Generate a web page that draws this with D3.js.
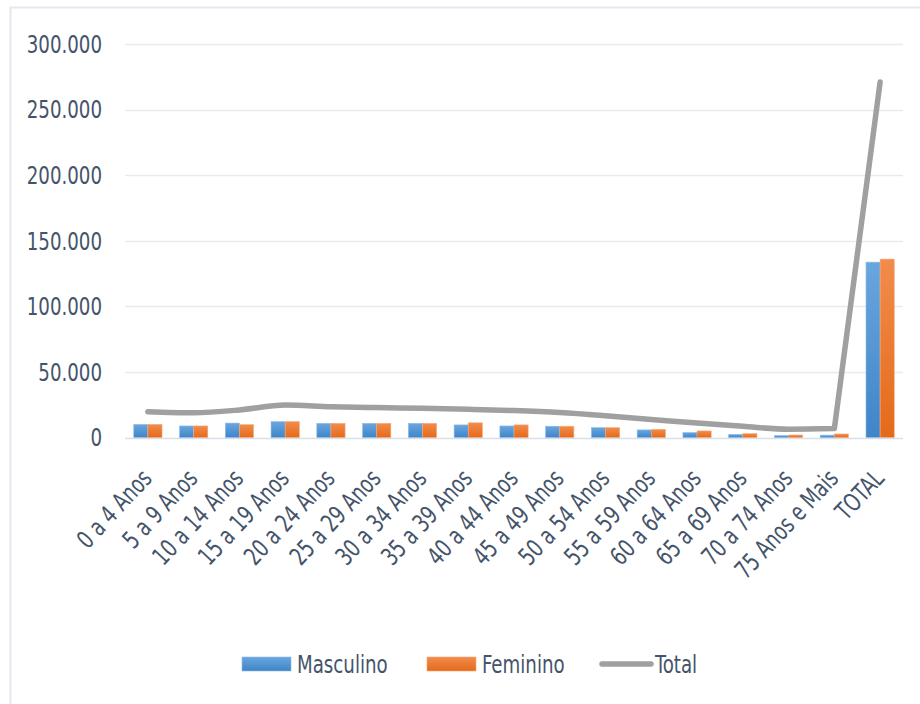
<!DOCTYPE html>
<html>
<head>
<meta charset="utf-8">
<script src="https://cdn.jsdelivr.net/npm/d3@7"></script>
<style>
  body { margin: 0; background: #fff; }
  text { font-family: "Liberation Sans Narrow", "DejaVu Sans Condensed", "Roboto", sans-serif; fill: #44546a; }
</style>
</head>
<body>
<script>
const categories = ['0 a 4 Anos', '5 a 9 Anos', '10 a 14 Anos', '15 a 19 Anos', '20 a 24 Anos',
  '25 a 29 Anos', '30 a 34 Anos', '35 a 39 Anos', '40 a 44 Anos', '45 a 49 Anos', '50 a 54 Anos',
  '55 a 59 Anos', '60 a 64 Anos', '65 a 69 Anos', '70 a 74 Anos', '75 Anos e Mais', 'TOTAL'];
const masculino = [10000, 8800, 11000, 12100, 10800, 10800, 10800, 9600, 8800, 8600, 7500,
  5800, 3800, 2400, 1500, 1800, 133700];
const feminino = [10000, 8800, 9800, 12100, 10800, 10800, 10800, 11200, 9600, 8600, 7500,
  6200, 5000, 2900, 1900, 2700, 136000];
const total = [19700, 18900, 21000, 24800, 23500, 22800, 22300, 21500, 20500, 19000, 16600,
  13800, 11000, 8500, 6300, 6800, 271000];
const yTicks = [0, 50000, 100000, 150000, 200000, 250000, 300000];

const width = 920;
const height = 704;
const margin = { top: 44, right: 17, bottom: 266.5, left: 125 };
const squeeze = 0.81; // narrow the fallback font toward the original's width

const svg = d3.select('body').append('svg')
  .attr('width', width)
  .attr('height', height);

const defs = svg.append('defs');
const grad = (id, top, bottom) => {
  const g = defs.append('linearGradient').attr('id', id)
    .attr('x1', 0).attr('y1', 0).attr('x2', 0).attr('y2', 1);
  g.append('stop').attr('offset', '0%').attr('stop-color', top);
  g.append('stop').attr('offset', '100%').attr('stop-color', bottom);
};
grad('gM', '#6aa6de', '#3f85c8');
grad('gF', '#f28c4c', '#e46a1a');

// chart frame (only left and top edge are visible)
svg.append('path')
  .attr('d', 'M10.5,704 L10.5,7.5 L920,7.5')
  .attr('fill', 'none')
  .attr('stroke', '#e3e7ef')
  .attr('stroke-width', 2);

const x = d3.scaleBand()
  .domain(categories)
  .range([margin.left, width - margin.right]);

const y = d3.scaleLinear()
  .domain([0, 300000])
  .range([height - margin.bottom, margin.top]);

const fmt = d => d === 0 ? '0' : d3.format(',')(d).replace(/,/g, '.');

// grid
svg.append('g')
  .selectAll('line')
  .data(yTicks)
  .enter()
  .append('line')
  .attr('x1', margin.left)
  .attr('x2', width - margin.right)
  .attr('y1', d => Math.round(y(d)) + 0.5)
  .attr('y2', d => Math.round(y(d)) + 0.5)
  .attr('stroke', d => d === 0 ? '#d9dfe9' : '#e6eaf1')
  .attr('stroke-width', 1.5);

// y labels
svg.append('g')
  .selectAll('text')
  .data(yTicks)
  .enter()
  .append('text')
  .attr('transform', d => `translate(102,${y(d)}) scale(${squeeze},1)`)
  .attr('dy', '0.35em')
  .attr('text-anchor', 'end')
  .style('font-size', '25px')
  .text(fmt);

// bars
const inner = d3.scaleBand()
  .domain(['M', 'F'])
  .range([0, x.bandwidth()])
  .paddingOuter(0.62)
  .paddingInner(0);

const groups = svg.append('g')
  .selectAll('g')
  .data(categories.map((c, i) => ({ c, m: masculino[i], f: feminino[i] })))
  .enter()
  .append('g')
  .attr('transform', d => `translate(${x(d.c)},0)`);

groups.append('rect')
  .attr('x', inner('M'))
  .attr('y', d => y(d.m))
  .attr('width', inner.bandwidth())
  .attr('height', d => y(0) - y(d.m))
  .attr('fill', 'url(#gM)')
  .attr('stroke', '#8fbde6')
  .attr('stroke-width', 0.6);

groups.append('rect')
  .attr('x', inner('F'))
  .attr('y', d => y(d.f))
  .attr('width', inner.bandwidth())
  .attr('height', d => y(0) - y(d.f))
  .attr('fill', 'url(#gF)')
  .attr('stroke', '#f6a97a')
  .attr('stroke-width', 0.6);

// total line: smooth through the age groups, then up to TOTAL
const cx = i => x(categories[i]) + x.bandwidth() / 2;
const line = d3.line()
  .x((d, i) => cx(i))
  .y(d => y(d))
  .curve(d3.curveMonotoneX);
const last = total.length - 1;

svg.append('path')
  .attr('d', line(total.slice(0, last)) + `L${cx(last)},${y(total[last])}`)
  .attr('fill', 'none')
  .attr('stroke', '#a0a0a0')
  .attr('stroke-width', 5.5)
  .attr('stroke-linecap', 'round')
  .attr('stroke-linejoin', 'round');

// x labels
svg.append('g')
  .selectAll('text')
  .data(categories)
  .enter()
  .append('text')
  .attr('transform', d => `translate(${x(d) + x.bandwidth() / 2 - 1},${height - margin.bottom + 36}) rotate(-47) scale(${squeeze},1)`)
  .attr('text-anchor', 'end')
  .attr('dy', '0.35em')
  .style('font-size', '25px')
  .text(d => d);

// legend
const legend = svg.append('g').attr('transform', 'translate(242,664)');
const items = [
  { name: 'Masculino', type: 'bar', fill: 'url(#gM)', stroke: '#8fbde6', x: 0 },
  { name: 'Feminino', type: 'bar', fill: 'url(#gF)', stroke: '#f6a97a', x: 185 },
  { name: 'Total', type: 'line', x: 358 }
];
items.forEach(it => {
  const g = legend.append('g').attr('transform', `translate(${it.x},0)`);
  if (it.type === 'bar') {
    g.append('rect')
      .attr('x', 0).attr('y', -7)
      .attr('width', 49).attr('height', 14)
      .attr('fill', it.fill)
      .attr('stroke', it.stroke)
      .attr('stroke-width', 0.6);
  } else {
    g.append('line')
      .attr('x1', 2).attr('x2', 51)
      .attr('y1', 0).attr('y2', 0)
      .attr('stroke', '#a0a0a0')
      .attr('stroke-width', 5.5)
      .attr('stroke-linecap', 'round');
  }
  g.append('text')
    .attr('transform', `translate(55,0) scale(${squeeze},1)`)
    .attr('dy', '0.35em')
    .style('font-size', '25px')
    .text(it.name);
});
</script>
</body>
</html>
